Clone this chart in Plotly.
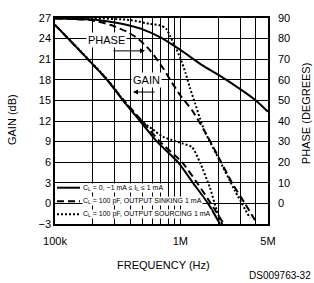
import plotly.graph_objects as go

# ---------------- data ----------------
freq_tick_vals = [1e5, 1e6, 5e6]
freq_tick_text = ["100k", "1M", "5M"]
freq_grid_vals = [2e5, 3e5, 4e5, 5e5, 6e5, 7e5, 8e5, 9e5, 2e6, 3e6, 4e6]
gain_ticks = [-3, 0, 3, 6, 9, 12, 15, 18, 21, 24, 27]
phase_ticks = [0, 10, 20, 30, 40, 50, 60, 70, 80, 90]

# Gain (dB)
gain_f_cl0 = [1e5, 2.6e5, 3.48e5, 4.76e5, 6.51e5, 9.57e5, 1.26e6, 1.66e6, 2.07e6]
gain_db_cl0 = [26, 18, 15, 12, 9, 6, 3, 0, -3]

gain_f_sink = [1e5, 2.6e5, 3.55e5, 4.94e5, 6.87e5, 1.03e6, 1.36e6, 1.75e6, 2.22e6]
gain_db_sink = [26, 18, 15, 12, 9, 6, 3, 0, -3]

gain_f_src = [1e5, 2.6e5, 3.48e5, 4.76e5, 6e5, 7.26e5, 9e5, 1.05e6, 1.24e6, 1.43e6, 1.72e6, 1.95e6, 2.15e6]
gain_db_src = [26, 18.1, 15.1, 12.2, 10.8, 9.7, 9.1, 8.7, 8.2, 6.0, 2.3, -1, -3]

# Phase (degrees)
phase_f_cl0 = [1e5, 2e5, 3e5, 4e5, 5e5, 7e5, 1e6, 1.5e6, 2e6, 3e6, 4e6, 5e6]
phase_deg_cl0 = [89.8, 89.3, 87.8, 86.2, 84.5, 80.5, 74.5, 67, 62.5, 55.5, 50, 44.5]

phase_f_sink = [1e5, 1.9e5, 2.75e5, 3.75e5, 4.59e5, 5.73e5, 7.26e5, 8.57e5, 1e6, 1.24e6,
                1.57e6, 2e6, 2.58e6, 3.27e6, 4.01e6]
phase_deg_sink = [89.8, 89, 86.7, 83.3, 80, 74.3, 65.7, 58.6, 52.4, 45.2,
                  34.8, 22.9, 10, 0, -9]

phase_f_src = [1e5, 2e5, 4e5, 5.73e5, 6.87e5, 7.7e5, 8.26e5, 9e5, 1e6, 1.1e6, 1.19e6,
               1.31e6, 1.43e6, 1.57e6, 2.07e6, 2.72e6, 3.59e6]
phase_deg_src = [90, 89.9, 89, 87.1, 86.5, 84.8, 81.4, 76.7, 70.5, 63.3, 56.2,
                 48.6, 41.4, 34.8, 20.5, 6.2, -7.1]

legend_labels = [
    "C<sub>L</sub> = 0, −1 mA ≤ I<sub>L</sub> ≤ 1 mA",
    "C<sub>L</sub> = 100 pF, OUTPUT SINKING 1 mA",
    "C<sub>L</sub> = 100 pF, OUTPUT SOURCING 1 mA",
]

# ---------------- figure ----------------
FONT = "Liberation Sans, Arial, sans-serif"
SOLID, DASH, DOT = "solid", "7px,4px", "2px,2px"
styles = [SOLID, DASH, DOT]

fig = go.Figure()
gain_sets = [(gain_f_cl0, gain_db_cl0), (gain_f_sink, gain_db_sink), (gain_f_src, gain_db_src)]
phase_sets = [(phase_f_cl0, phase_deg_cl0), (phase_f_sink, phase_deg_sink), (phase_f_src, phase_deg_src)]

for (f, g), dash, name in zip(gain_sets, styles, legend_labels):
    fig.add_trace(go.Scatter(x=f, y=g, mode="lines", name=name, yaxis="y",
                             line=dict(color="black", width=2, dash=dash, shape="spline", smoothing=0.6),
                             showlegend=False))
for (f, p), dash, name in zip(phase_sets, styles, legend_labels):
    fig.add_trace(go.Scatter(x=f, y=p, mode="lines", name=name, yaxis="y2",
                             line=dict(color="black", width=2, dash=dash, shape="spline", smoothing=0.6),
                             showlegend=False))

# plot area in pixels: x 55..268, y 14..224
def px(xp):
    return (xp - 55) / 213.0

def py(yp):
    return (224 - yp) / 210.0

shapes = [
    # white legend box
    dict(type="rect", xref="paper", yref="paper", x0=0, x1=px(187), y0=0, y1=py(178),
         fillcolor="white", line=dict(width=0), layer="between"),
]
legend_rows = [187, 200.7, 214]
for yy, dash in zip(legend_rows, styles):
    shapes.append(dict(type="line", xref="paper", yref="paper", x0=px(57), x1=px(80),
                       y0=py(yy), y1=py(yy), line=dict(color="black", width=2, dash=dash)))

annotations = []
for yy, lab in zip(legend_rows, legend_labels):
    annotations.append(dict(xref="paper", yref="paper", x=px(82), y=py(yy), text=lab,
                            showarrow=False, xanchor="left", yanchor="middle",
                            font=dict(size=7, family=FONT, color="black"),
                            bgcolor="white", borderpad=0))

annotations += [
    dict(xref="paper", yref="paper", x=px(12), y=py(118), text="GAIN (dB)", textangle=-90,
         showarrow=False, xanchor="center", yanchor="middle", font=dict(size=11)),
    dict(xref="paper", yref="paper", x=px(306), y=py(112), text="PHASE (DEGREES)", textangle=-90,
         showarrow=False, xanchor="center", yanchor="middle", font=dict(size=11)),
    dict(xref="paper", yref="paper", x=px(163), y=py(266), text="FREQUENCY (Hz)",
         showarrow=False, xanchor="center", yanchor="middle", font=dict(size=11)),
    dict(xref="paper", yref="paper", x=px(313), y=py(277), text="DS009763-32",
         showarrow=False, xanchor="right", yanchor="middle", font=dict(size=10)),
    dict(xref="paper", yref="paper", x=px(106), y=py(36), text="PHASE",
         showarrow=False, xanchor="center", yanchor="middle", font=dict(size=11),
         bgcolor="white", borderpad=1),
    dict(xref="paper", yref="paper", x=px(146.5), y=py(77.5), text="GAIN",
         showarrow=False, xanchor="center", yanchor="middle", font=dict(size=11),
         bgcolor="white", borderpad=1),
    # arrows
    dict(xref="paper", yref="paper", x=px(145), y=py(47.5), text="", showarrow=True,
         ax=-33, ay=0, arrowhead=2, arrowsize=1, arrowwidth=1, arrowcolor="black"),
    dict(xref="paper", yref="paper", x=px(133), y=py(89.5), text="", showarrow=True,
         ax=23, ay=0, arrowhead=2, arrowsize=1, arrowwidth=1, arrowcolor="black"),
]

axis_common = dict(showline=True, linecolor="black", linewidth=1.5, ticks="",
                   zeroline=False, tickfont=dict(size=11, color="black"))

fig.update_layout(
    width=314, height=283,
    margin=dict(l=55, r=46, t=14, b=59),
    paper_bgcolor="white", plot_bgcolor="white",
    font=dict(family=FONT, color="black", size=11),
    showlegend=False,
    xaxis=dict(type="log", range=[5, 6.69897], tickvals=freq_tick_vals, ticktext=freq_tick_text,
               showgrid=True, gridcolor="black", gridwidth=1, mirror=True,
               minor=dict(tickvals=freq_grid_vals, showgrid=True, gridcolor="black",
                          gridwidth=1, ticks=""),
               ticklabelstandoff=6, **axis_common),
    yaxis=dict(range=[-3, 27], tickvals=gain_ticks, showgrid=True, gridcolor="black",
               gridwidth=1, mirror=True, ticklabelstandoff=0, **axis_common),
    yaxis2=dict(range=[-10, 90], tickvals=phase_ticks, overlaying="y", side="right",
                showgrid=False, ticklabelstandoff=6, **axis_common),
    shapes=shapes,
    annotations=annotations,
)

fig.write_html("out.html", config={"displayModeBar": False},
               post_script="document.body.style.margin='0';document.body.style.padding='0';")
